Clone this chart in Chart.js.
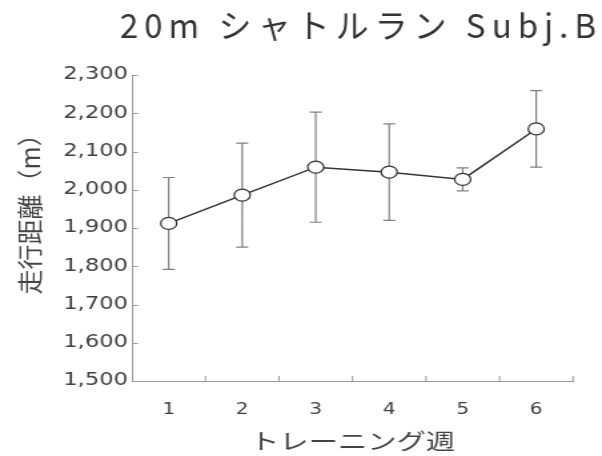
<!DOCTYPE html>
<html>
<head>
<meta charset="utf-8">
<script src="https://cdn.jsdelivr.net/npm/chart.js@4.4.1/dist/chart.umd.min.js"></script>
<style>
  html, body { margin: 0; padding: 0; background: #fff; }
  #wrap { width: 602px; height: 456px; overflow: hidden; position: relative; }
  #c { transform-origin: 0 0; transform: scaleX(1.331858); display: block; }
</style>
</head>
<body>
<div id="wrap"><canvas id="c" width="452" height="456"></canvas></div>
<script>
// ---- data ----
const TITLE = '20m シャトルラン Subj.B';
const Y_TITLE = '走行距離（m）';
const X_TITLE = 'トレーニング週';
const weeks = ['1', '2', '3', '4', '5', '6'];
const meanDistance = [1912, 1986, 2059, 2046, 2027, 2159];
const sdDistance = [120, 136, 144, 126, 30, 100];
const yMin = 1500;
const yMax = 2300;
const yStep = 100;

// horizontal stretch of the picture (inner canvas -> page)
const S = 602 / 452;

const deco = {
  id: 'deco',
  beforeDatasetsDraw(chart) {
    const { ctx, scales: { x, y } } = chart;
    ctx.save();
    // error bars
    ctx.strokeStyle = '#808080';
    ctx.lineWidth = 1.2;
    ctx.beginPath();
    meanDistance.forEach((m, i) => {
      const px = x.getPixelForValue(i);
      const top = y.getPixelForValue(m + sdDistance[i]);
      const bot = y.getPixelForValue(m - sdDistance[i]);
      ctx.moveTo(px, top); ctx.lineTo(px, bot);
      ctx.moveTo(px - 4.5, top); ctx.lineTo(px + 4.5, top);
      ctx.moveTo(px - 4.5, bot); ctx.lineTo(px + 4.5, bot);
    });
    ctx.stroke();
    // inside tick marks
    ctx.strokeStyle = '#999';
    ctx.lineWidth = 1;
    ctx.beginPath();
    y.ticks.forEach(t => {
      const py = Math.round(y.getPixelForValue(t.value)) + 0.5;
      ctx.moveTo(x.left, py); ctx.lineTo(x.left + 4.5, py);
    });
    for (let i = 1; i <= weeks.length; i++) {
      const px = x.getPixelForValue(i - 0.5);
      ctx.moveTo(px, y.bottom); ctx.lineTo(px, y.bottom - 5);
    }
    ctx.stroke();
    ctx.restore();
  },
  afterDraw(chart) {
    const ctx = chart.ctx;
    ctx.save();
    ctx.setTransform(1 / S, 0, 0, 1, 0, 0); // draw in page coordinates, unstretched
    ctx.fillStyle = '#333';
    ctx.font = '33px "Noto Sans CJK JP"';
    ctx.letterSpacing = '6px';
    ctx.textAlign = 'center';
    ctx.textBaseline = 'alphabetic';
    ctx.fillText(TITLE, 361, 38);
    ctx.letterSpacing = '0px';
    ctx.font = '25px "Noto Sans CJK JP"';
    ctx.fillStyle = '#444';
    ctx.translate(30, 208);
    ctx.rotate(-Math.PI / 2);
    ctx.textBaseline = 'middle';
    ctx.fillText(Y_TITLE, 0, 0);
    ctx.restore();
  }
};

new Chart(document.getElementById('c'), {
  type: 'line',
  data: {
    labels: weeks,
    datasets: [{
      data: meanDistance,
      borderColor: '#333',
      borderWidth: 1.5,
      tension: 0,
      pointRadius: 6,
      pointHoverRadius: 6,
      pointBackgroundColor: '#fff',
      pointBorderColor: '#333',
      pointBorderWidth: 1.2
    }]
  },
  options: {
    responsive: false,
    animation: false,
    devicePixelRatio: 1,
    layout: { padding: { left: 0, right: 21.8, top: 75, bottom: 0 } },
    plugins: { legend: { display: false }, tooltip: { enabled: false }, title: { display: false } },
    scales: {
      x: {
        offset: true,
        grid: { display: false },
        border: { display: true, color: '#999', width: 1 },
        ticks: { color: '#404040', font: { family: 'DejaVu Sans', size: 15 }, padding: 12 },
        title: { display: true, text: X_TITLE, color: '#444', font: { family: 'Noto Sans CJK JP', size: 22 }, padding: { top: 0, bottom: 2 } },
        afterFit(scale) { scale.height = 75; }
      },
      y: {
        min: yMin,
        max: yMax,
        grid: { display: false, drawTicks: false },
        border: { display: true, color: '#999', width: 1 },
        ticks: {
          stepSize: yStep,
          color: '#404040',
          font: { family: 'DejaVu Sans', size: 17 },
          padding: 3,
          callback: v => v.toLocaleString('en-US')
        },
        afterFit(scale) { scale.width = 99.1; }
      }
    }
  },
  plugins: [deco]
});
</script>
</body>
</html>
